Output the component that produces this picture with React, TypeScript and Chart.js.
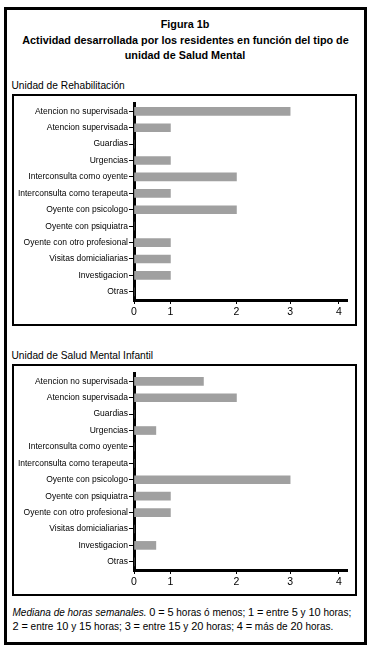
import React, { useEffect, useRef } from 'react';
import { Chart, registerables, LinearScale } from 'chart.js';

// ---------- data ----------
const categories = [
  'Atencion no supervisada',
  'Atencion supervisada',
  'Guardias',
  'Urgencias',
  'Interconsulta como oyente',
  'Interconsulta como terapeuta',
  'Oyente con psicologo',
  'Oyente con psiquiatra',
  'Oyente con otro profesional',
  'Visitas domicialiarias',
  'Investigacion',
  'Otras',
];
const rehabilitacionValues = [3, 1, 0, 1, 2, 1, 2, 0, 1, 1, 1, 0];
const infantilValues = [1.5, 2, 0, 0.6, 0, 0, 3, 1, 1, 0, 0.6, 0];
const xTickValues = [0, 1, 2, 3, 4];
const xMin = 0;
const xMax = 4.15;

// ---------- style ----------
const FONT = '"Liberation Sans", Arial, Helvetica, sans-serif';
const BAR_COLOR = '#a0a0a0';
// the original axis is drawn with uneven spacing between its ticks:
// value -> fraction of the axis length
const AXIS_STOPS: [number, number][] = [
  [0, 0],
  [1, 0.171],
  [2, 0.481],
  [3, 0.733],
  [4, 0.962],
  [4.15, 1],
];

function toDecimal(v: number): number {
  const s = AXIS_STOPS;
  for (let i = 1; i < s.length; i++) {
    if (v <= s[i][0] || i === s.length - 1) {
      const [v0, d0] = s[i - 1];
      const [v1, d1] = s[i];
      return d0 + ((v - v0) / (v1 - v0)) * (d1 - d0);
    }
  }
  return 0;
}
function fromDecimal(d: number): number {
  const s = AXIS_STOPS;
  for (let i = 1; i < s.length; i++) {
    if (d <= s[i][1] || i === s.length - 1) {
      const [v0, d0] = s[i - 1];
      const [v1, d1] = s[i];
      return v0 + ((d - d0) / (d1 - d0)) * (v1 - v0);
    }
  }
  return 0;
}

class StopsScale extends LinearScale {
  static id = 'stops';
  static defaults = { ...(LinearScale as any).defaults };
  getPixelForValue(value: any) {
    if (value === null || value === undefined || isNaN(value)) return NaN;
    return this.getPixelForDecimal(toDecimal(+value));
  }
  getValueForPixel(pixel: number) {
    return fromDecimal(this.getDecimalForPixel(pixel));
  }
}

Chart.register(...registerables, StopsScale as any);

function BarPanel({ values, top }: { values: number[]; top: number }) {
  const ref = useRef<HTMLCanvasElement>(null);
  useEffect(() => {
    if (!ref.current) return;
    const chart = new Chart(ref.current, {
      type: 'bar',
      data: {
        labels: categories,
        datasets: [
          {
            data: values,
            backgroundColor: BAR_COLOR,
            borderWidth: 0,
            barThickness: 8,
          },
        ],
      },
      options: {
        indexAxis: 'y',
        animation: false,
        responsive: false,
        maintainAspectRatio: false,
        devicePixelRatio: 1,
        layout: { padding: { top: 6, right: 7, left: 0, bottom: 0 } },
        plugins: { legend: { display: false }, tooltip: { enabled: false } },
        scales: {
          y: {
            type: 'category',
            z: 1,
            grid: {
              offset: false,
              drawOnChartArea: false,
              drawTicks: true,
              tickLength: 5,
              color: '#000',
              lineWidth: 1,
            },
            border: { display: true, color: '#000', width: 3 },
            ticks: {
              color: '#000',
              padding: 1,
              autoSkip: false,
              font: { family: FONT, size: 8.5 },
            },
            afterFit: (s: any) => {
              s.width = 120;
            },
          },
          x: {
            type: 'stops' as any,
            min: xMin,
            max: xMax,
            z: 1,
            grid: {
              drawOnChartArea: false,
              drawTicks: true,
              tickLength: 4,
              color: '#000',
              lineWidth: 1,
            },
            border: { display: true, color: '#000', width: 3 },
            ticks: {
              color: '#000',
              padding: 2,
              maxRotation: 0,
              font: { family: FONT, size: 10.5 },
            },
            afterBuildTicks: (s: any) => {
              s.ticks = xTickValues.map((v) => ({ value: v }));
            },
            afterFit: (s: any) => {
              s.height = 23;
            },
          } as any,
        },
      },
    });
    return () => chart.destroy();
  }, [values]);
  return (
    <canvas
      ref={ref}
      width={340}
      height={226}
      style={{ position: 'absolute', left: 14, top, width: 340, height: 226 }}
    />
  );
}

function Line({
  text,
  cy,
  size,
  bold,
  left,
  center,
}: {
  text: React.ReactNode;
  cy: number;
  size: number;
  bold?: boolean;
  left?: number;
  center?: number;
}) {
  const h = Math.round(size * 1.4);
  const style: React.CSSProperties = {
    position: 'absolute',
    top: cy - h / 2,
    height: h,
    lineHeight: h + 'px',
    fontSize: size,
    fontWeight: bold ? 'bold' : 'normal',
    fontFamily: FONT,
    color: '#000',
    whiteSpace: 'nowrap',
  };
  if (center !== undefined) {
    style.left = center - 200;
    style.width = 400;
    style.textAlign = 'center';
  } else {
    style.left = left;
  }
  return <div style={style}>{text}</div>;
}

// digits and "=" are set a little larger in the original footnote
function Foot({ s }: { s: string }) {
  const parts = s.split(/([0-9=]+)/);
  return (
    <>
      {parts.map((p, i) =>
        /[0-9=]/.test(p) ? (
          <span key={i} style={{ fontSize: 11 }}>
            {p}
          </span>
        ) : (
          <span key={i}>{p}</span>
        )
      )}
    </>
  );
}

export default function App() {
  return (
    <div
      style={{
        position: 'absolute',
        left: 0,
        top: 0,
        width: 372,
        height: 650,
        background: '#fff',
        overflow: 'hidden',
      }}
    >
      {/* outer frame */}
      <div
        style={{
          position: 'absolute',
          left: 4,
          top: 7,
          width: 363,
          height: 638,
          border: '3px solid #000',
          boxSizing: 'border-box',
        }}
      />
      <Line text="Figura 1b" cy={24} size={10.8} bold center={185} />
      <Line
        text="Actividad desarrollada por los residentes en función del tipo de"
        cy={40.5}
        size={10.8}
        bold
        center={185.5}
      />
      <Line text="unidad de Salud Mental" cy={55.5} size={10.8} bold center={185} />

      <Line text="Unidad de Rehabilitación" cy={86} size={10.2} left={11.5} />
      <div
        style={{
          position: 'absolute',
          left: 12,
          top: 94,
          width: 345,
          height: 232,
          border: '2px solid #000',
          boxSizing: 'border-box',
        }}
      />
      <BarPanel values={rehabilitacionValues} top={97} />

      <Line text="Unidad de Salud Mental Infantil" cy={356} size={10.2} left={11.5} />
      <div
        style={{
          position: 'absolute',
          left: 12,
          top: 364,
          width: 345,
          height: 232,
          border: '2px solid #000',
          boxSizing: 'border-box',
        }}
      />
      <BarPanel values={infantilValues} top={367} />

      <Line
        text={
          <>
            <i>Mediana de horas semanales.</i>{' '}
            <Foot s="0 = 5 horas ó menos; 1 = entre 5 y 10 horas;" />
          </>
        }
        cy={612}
        size={10}
        left={12.5}
      />
      <Line
        text={<Foot s="2 = entre 10 y 15 horas; 3 = entre 15 y 20 horas; 4 = más de 20 horas." />}
        cy={626}
        size={10}
        left={12.5}
      />
    </div>
  );
}
